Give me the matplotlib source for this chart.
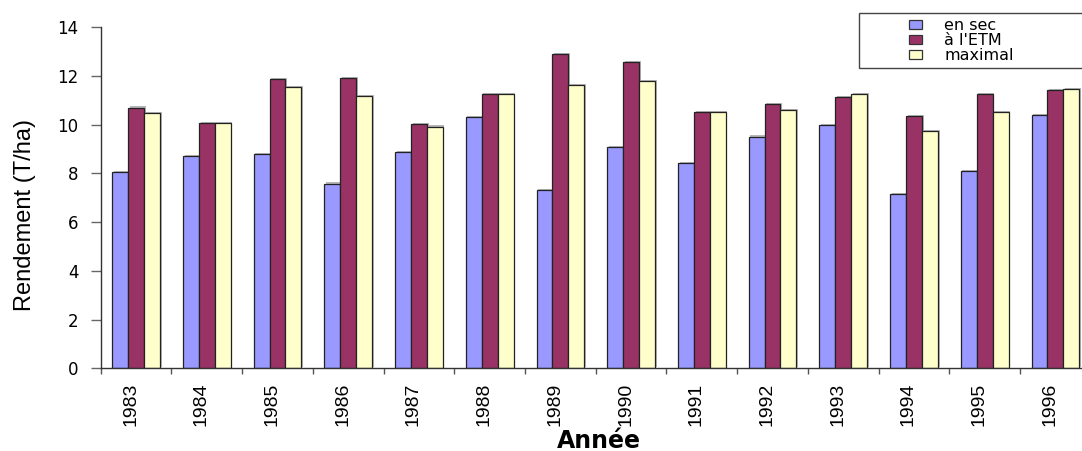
import numpy as np
import matplotlib
matplotlib.use("Agg")
import matplotlib.pyplot as plt
import matplotlib.patheffects as pe
import matplotlib.transforms as mtransforms
from matplotlib.patches import Rectangle

# Yields per year (T/ha)
years = ["1983", "1984", "1985", "1986", "1987", "1988", "1989",
         "1990", "1991", "1992", "1993", "1994", "1995", "1996"]
en_sec = [8.05, 8.70, 8.78, 7.58, 8.87, 10.30, 7.31,
          9.07, 8.42, 9.51, 9.97, 7.14, 8.11, 10.39]
a_etm = [10.70, 10.08, 11.86, 11.92, 10.02, 11.26, 12.90,
         12.56, 10.53, 10.84, 11.12, 10.36, 11.26, 11.41]
maximal = [10.49, 10.08, 11.56, 11.19, 9.92, 11.26, 11.62,
           11.78, 10.51, 10.59, 11.25, 9.75, 10.53, 11.45]

series = [("en sec", en_sec, "#9999FF"),
          ("à l'ETM", a_etm, "#993366"),
          ("maximal", maximal, "#FFFFCC")]

fig = plt.figure(figsize=(10.82, 4.51), dpi=100)
ax = fig.add_axes([0.0931, 0.1834, 0.915, 0.756])

x = np.arange(len(years))
w = 0.225
shadow = [pe.SimplePatchShadow(offset=(1.2, 0.9), shadow_rgbFace="#888888", alpha=0.6),
          pe.Normal()]
handles = []
for i, (name, vals, col) in enumerate(series):
    bars = ax.bar(x + (i - 1) * w, vals, width=w, color=col,
                  edgecolor="#222222", linewidth=0.9, label=name)
    for b in bars:
        b.set_path_effects(shadow)
    handles.append(bars)

ax.set_xlim(-0.5, len(years) - 0.5)
ax.set_ylim(0, 14)
ax.set_yticks(np.arange(0, 15, 2))
ax.set_yticklabels([str(v) for v in range(0, 15, 2)],
                   fontfamily="DejaVu Sans", fontsize=12)
ax.tick_params(axis="y", direction="out", length=7, width=1, color="#666666", pad=9)

ax.set_xticks(x)
ax.set_xticklabels(years, rotation=90, fontfamily="Liberation Sans", fontsize=14)
ax.set_xticks(np.arange(-0.5, len(years), 1), minor=True)
ax.tick_params(axis="x", which="major", length=0, pad=10.5)
ax.tick_params(axis="x", which="minor", direction="out", length=4.5, width=1, color="#555555")
shift = mtransforms.ScaledTranslation(-4 / 72, 0, fig.dpi_scale_trans)
for lab in ax.get_xticklabels():
    lab.set_transform(lab.get_transform() + shift)

for s in ("top", "right"):
    ax.spines[s].set_visible(False)
for s in ("left", "bottom"):
    ax.spines[s].set_color("#333333")
    ax.spines[s].set_linewidth(1)

ax.set_xlabel("Année", fontfamily="DejaVu Sans", fontweight="bold", fontsize=17)
ax.xaxis.label.set_va("baseline")
ax.xaxis.set_label_coords(0.503, -0.2337)
ax.set_ylabel("Rendement (T/ha)", fontfamily="Liberation Sans", fontsize=17)
ax.yaxis.label.set_va("center")
ax.yaxis.set_label_coords(-0.0765, 0.45)

# Legend frame, extending past the right edge
fig.patches.append(Rectangle((859 / 1082, 1 - 68.3 / 451), 0.3, (68.3 - 12.7) / 451,
                             transform=fig.transFigure, facecolor="white",
                             edgecolor="#444444", linewidth=1, zorder=5))
leg = fig.legend(handles=handles, loc="center left",
                 bbox_to_anchor=(909 / 1082, 1 - 40.5 / 451),
                 frameon=False, prop={"family": "DejaVu Sans", "size": 11.5},
                 handlelength=0.8, handleheight=0.47, handletextpad=1.4,
                 labelspacing=0.0, borderpad=0.0, borderaxespad=0)
leg.set_zorder(6)
for h in leg.legend_handles:
    h.set_path_effects([])
    h.set_edgecolor("#333333")

fig.savefig("out.png", dpi=100)
